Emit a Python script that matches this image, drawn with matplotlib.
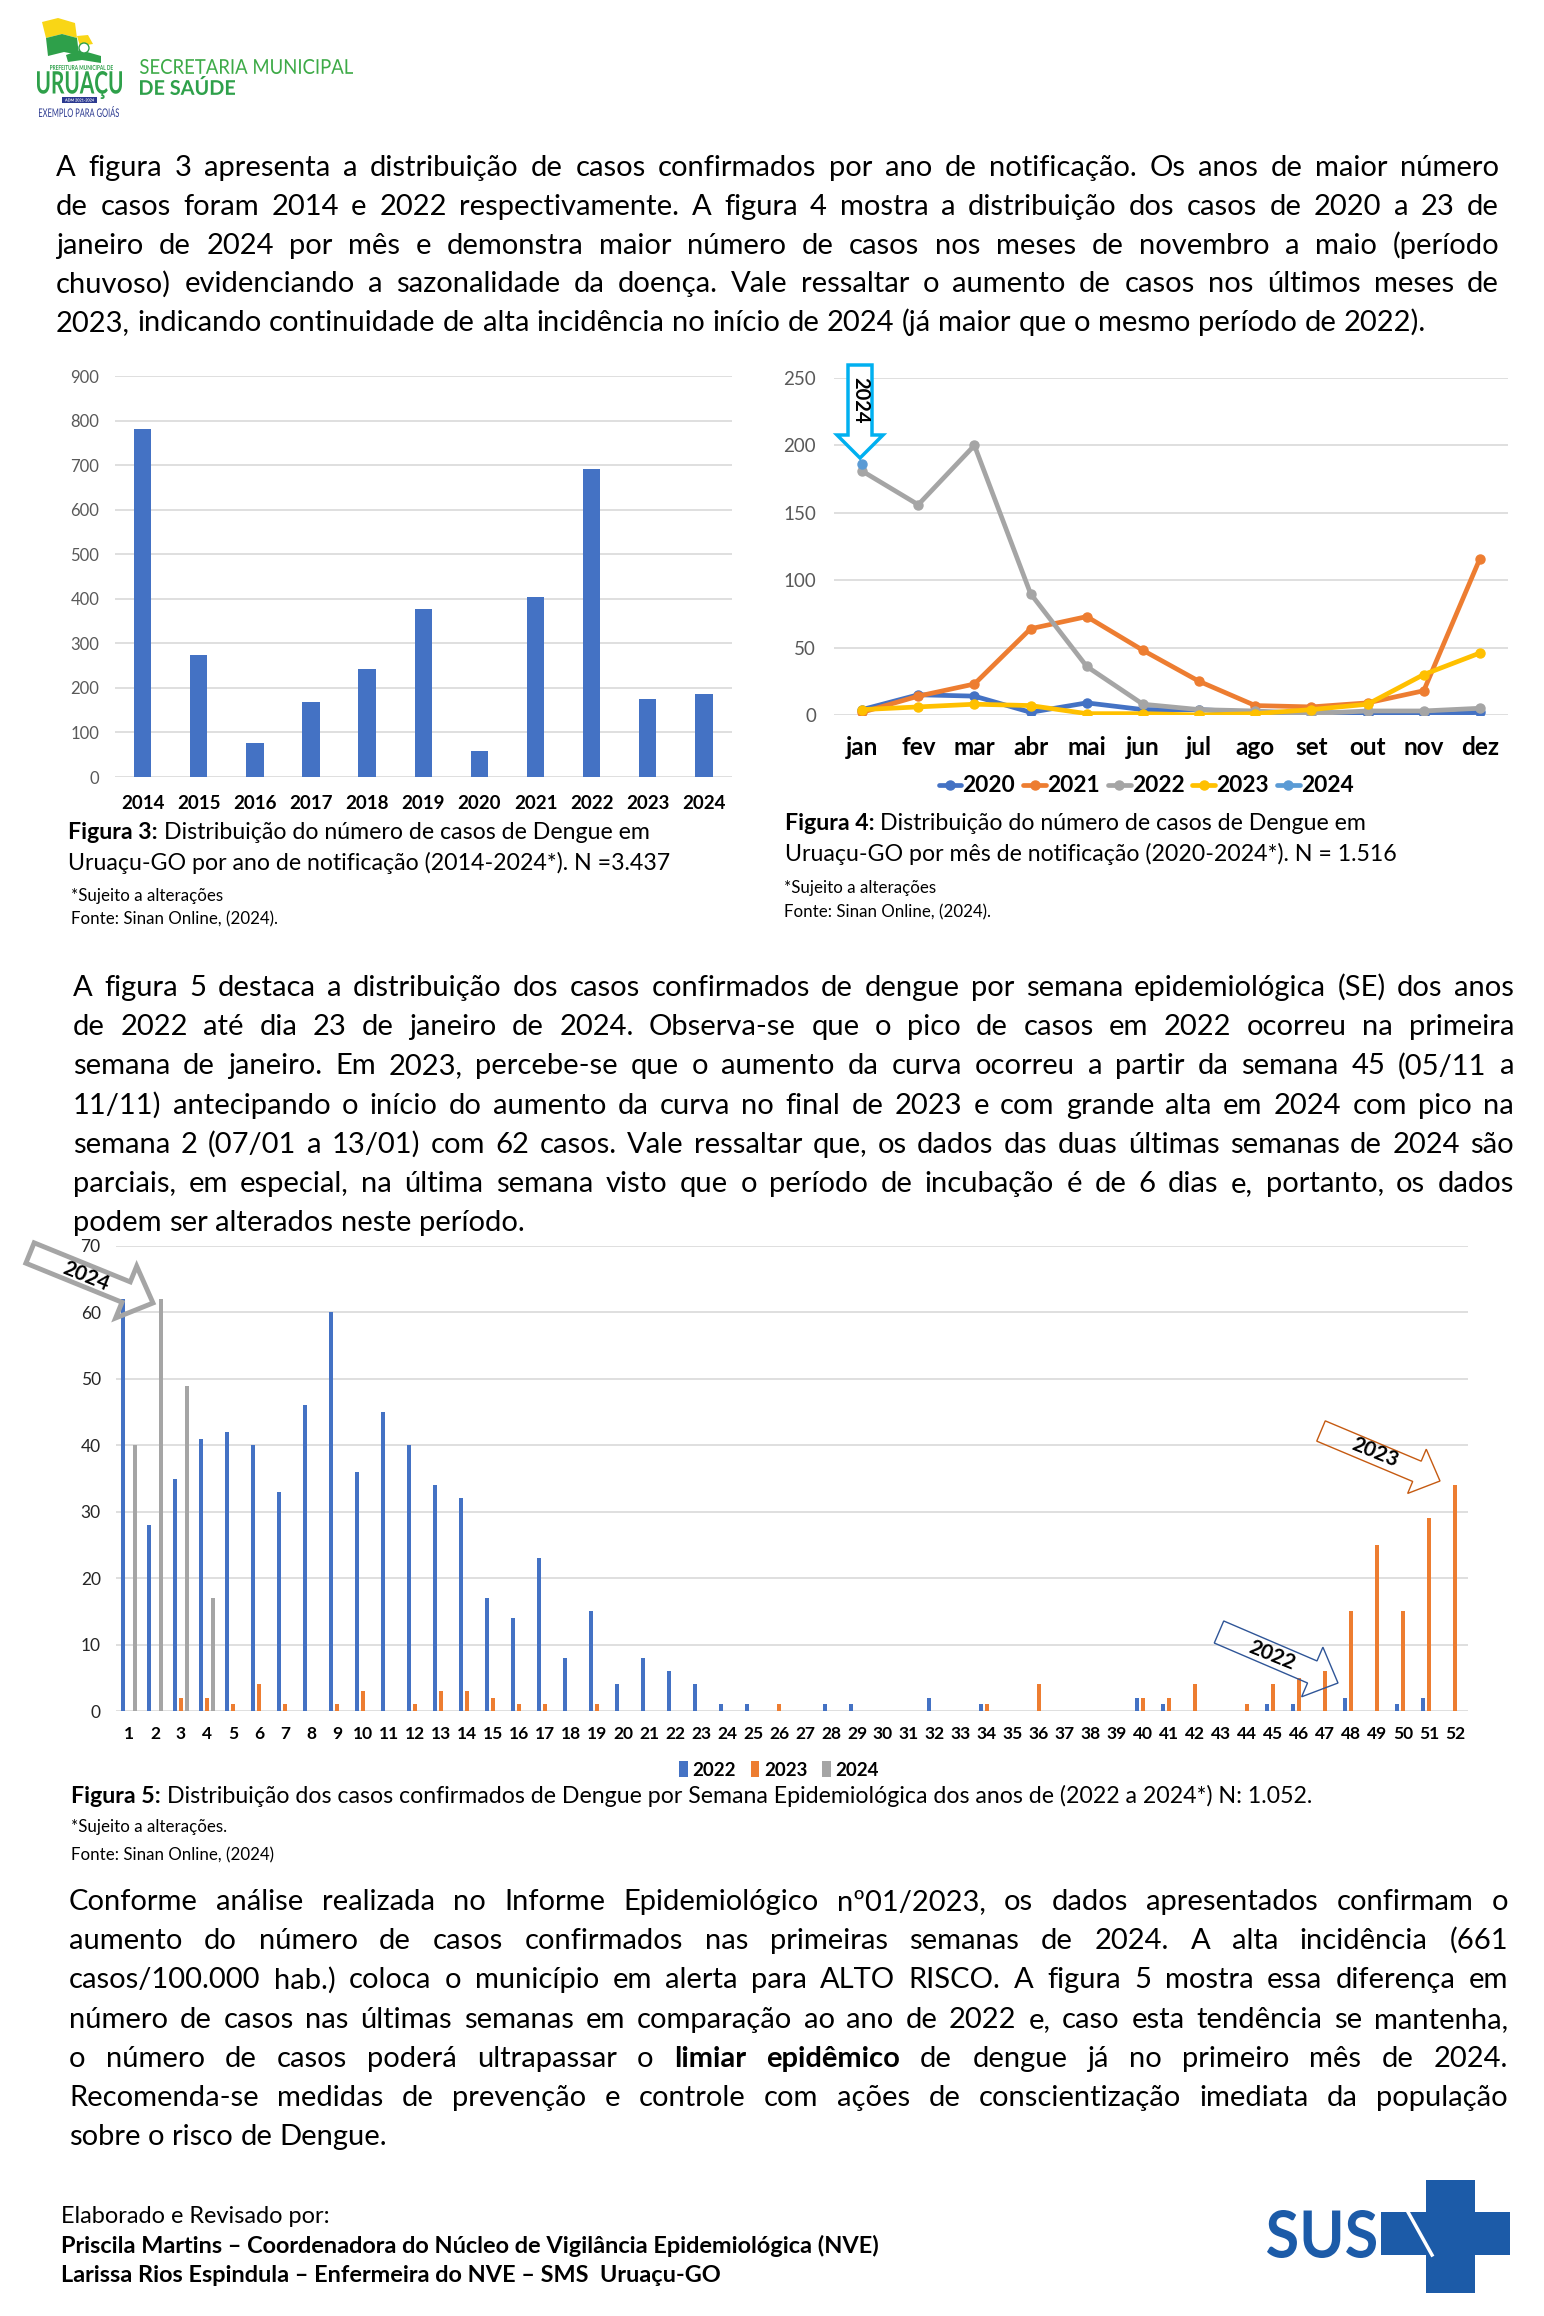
import numpy as np
import matplotlib
matplotlib.use("Agg")
import matplotlib.pyplot as plt
from matplotlib.patches import Polygon, Rectangle, Circle, PathPatch
from matplotlib.textpath import TextPath
from matplotlib.font_manager import FontProperties
from matplotlib.transforms import Affine2D

W, H = 1544, 2316
FONT = "Lato"
plt.rcParams["font.family"] = [FONT, "DejaVu Sans"]

BLUE = "#4472C4"
ORANGE = "#ED7D31"
GRAY = "#A5A5A5"
YELLOW = "#FFC000"
LIGHTBLUE = "#5B9BD5"
GRID = "#D9D9D9"

# Figura 3 - casos por ano
anos = ["2014", "2015", "2016", "2017", "2018", "2019", "2020", "2021", "2022", "2023", "2024"]
casos_ano = [781, 273, 77, 169, 242, 378, 59, 405, 691, 176, 186]

# Figura 4 - casos por mes
meses = ["jan", "fev", "mar", "abr", "mai", "jun", "jul", "ago", "set", "out", "nov", "dez"]
mes_2020 = [4, 15, 14, 2, 9, 4, 4, 2, 2, 1, 0, 2]
mes_2021 = [2, 14, 23, 64, 73, 48, 25, 7, 6, 9, 18, 116]
mes_2022 = [181, 156, 200, 90, 36, 8, 4, 3, 1, 3, 3, 5]
mes_2023 = [4, 6, 8, 7, 1, 1, 0, 1, 4, 8, 30, 46]
mes_2024 = [186]

# Figura 5 - casos por semana epidemiologica
semanas = list(range(1, 53))
se_2022 = [62, 28, 35, 41, 42, 40, 33, 46, 60, 36, 45, 40, 34, 32, 17, 14, 23, 8, 15, 4,
           8, 6, 4, 1, 1, 0, 0, 1, 1, 0, 0, 2, 0, 1, 0, 0, 0, 0, 0, 2,
           1, 0, 0, 0, 1, 1, 0, 2, 0, 1, 2, 0]
se_2023 = [0, 0, 2, 2, 1, 4, 1, 0, 1, 3, 0, 1, 3, 3, 2, 1, 1, 0, 1, 0,
           0, 0, 0, 0, 0, 1, 0, 0, 0, 0, 0, 0, 0, 1, 0, 4, 0, 0, 0, 2,
           2, 4, 0, 1, 4, 5, 6, 15, 25, 15, 29, 34]
se_2024 = [40, 62, 49, 17]

par1 = [
    "A figura 3 apresenta a distribuição de casos confirmados por ano de notificação. Os anos de maior número",
    "de casos foram 2014 e 2022 respectivamente. A figura 4 mostra a distribuição dos casos de 2020 a 23 de",
    "janeiro de 2024 por mês e demonstra maior número de casos nos meses de novembro a maio (período",
    "chuvoso) evidenciando a sazonalidade da doença. Vale ressaltar o aumento de casos nos últimos meses de",
    "2023, indicando continuidade de alta incidência no início de 2024 (já maior que o mesmo período de 2022).",
]
par2 = [
    "A figura 5 destaca a distribuição dos casos confirmados de dengue por semana epidemiológica (SE) dos anos",
    "de 2022 até dia 23 de janeiro de 2024. Observa-se que o pico de casos em 2022 ocorreu na primeira",
    "semana de janeiro. Em 2023, percebe-se que o aumento da curva ocorreu a partir da semana 45 (05/11 a",
    "11/11) antecipando o início do aumento da curva no final de 2023 e com grande alta em 2024 com pico na",
    "semana 2 (07/01 a 13/01) com 62 casos. Vale ressaltar que, os dados das duas últimas semanas de 2024 são",
    "parciais, em especial, na última semana visto que o período de incubação é de 6 dias e, portanto, os dados",
    "podem ser alterados neste período.",
]
par3 = [
    "Conforme análise realizada no Informe Epidemiológico nº01/2023, os dados apresentados confirmam o",
    "aumento do número de casos confirmados nas primeiras semanas de 2024. A alta incidência (661",
    "casos/100.000 hab.) coloca o município em alerta para ALTO RISCO. A figura 5 mostra essa diferença em",
    "número de casos nas últimas semanas em comparação ao ano de 2022 e, caso esta tendência se mantenha,",
    "o número de casos poderá ultrapassar o §limiar §epidêmico de dengue já no primeiro mês de 2024.",
    "Recomenda-se medidas de prevenção e controle com ações de conscientização imediata da população",
    "sobre o risco de Dengue.",
]


def rect(l, t, r, b):
    return [l / W, 1 - b / H, (r - l) / W, (b - t) / H]


def clean_axes(ax):
    for s in ax.spines.values():
        s.set_visible(False)
    ax.yaxis.grid(True, color=GRID, lw=1.2)
    ax.set_axisbelow(True)


fig = plt.figure(figsize=(W / 100, H / 100), dpi=100)
fig.patch.set_facecolor("white")

# ---- Figura 3
ax3 = fig.add_axes(rect(114.5, 376, 732, 777))
x3 = np.arange(len(anos))
ax3.bar(x3, casos_ano, width=0.31, color=BLUE, zorder=2)
ax3.set_xlim(-0.5, len(anos) - 0.5)
ax3.set_ylim(0, 900)
ax3.set_yticks(range(0, 901, 100))
clean_axes(ax3)
ax3.tick_params(axis="y", length=0, pad=11, labelsize=12, labelcolor="#595959")
ax3.set_xticks(x3, anos)
ax3.tick_params(axis="x", length=0, pad=13, labelsize=13.5)
for lab in ax3.get_xticklabels():
    lab.set_fontweight("bold")

# ---- Figura 4
ax4 = fig.add_axes(rect(834, 378, 1508, 715))
x4 = np.arange(len(meses))
series = [("2020", mes_2020, BLUE), ("2021", mes_2021, ORANGE), ("2022", mes_2022, GRAY),
          ("2023", mes_2023, YELLOW), ("2024", mes_2024, LIGHTBLUE)]
for nome, vals, cor in series:
    ax4.plot(x4[:len(vals)], vals, color=cor, lw=3.4, marker="o", ms=6.5,
             solid_capstyle="round", label=nome, zorder=3)
ax4.set_xlim(-0.5, len(meses) - 0.5)
ax4.set_ylim(0, 250)
ax4.set_yticks(range(0, 251, 50))
clean_axes(ax4)
ax4.tick_params(axis="y", length=0, pad=13, labelsize=13.5, labelcolor="#595959")
ax4.set_xticks(x4, meses)
ax4.tick_params(axis="x", length=0, pad=15, labelsize=17.5)
for lab in ax4.get_xticklabels():
    lab.set_fontweight("bold")
ax4.legend(loc="center", bbox_to_anchor=(1146 / W, 1 - 786 / H), bbox_transform=fig.transFigure,
           ncol=5, frameon=False, handlelength=1.0, handletextpad=0.05, columnspacing=0.35,
           prop=FontProperties(family=FONT, weight="bold", size=16.4))

# ---- Figura 5
ax5 = fig.add_axes(rect(116, 1246, 1468, 1711))
sem = np.array(semanas)
off, wd = 0.22, 0.17
ax5.bar(sem - off, se_2022, wd, color=BLUE, label="2022", zorder=2)
ax5.bar(sem, se_2023, wd, color=ORANGE, label="2023", zorder=2)
ax5.bar(sem[:len(se_2024)] + off, se_2024, wd, color=GRAY, label="2024", zorder=2)
ax5.set_xlim(0.5, 52.5)
ax5.set_ylim(0, 70)
ax5.set_yticks(range(0, 71, 10))
clean_axes(ax5)
ax5.tick_params(axis="y", length=0, pad=11, labelsize=12.5, labelcolor="#262626")
ax5.set_xticks(sem, [str(s) for s in semanas])
ax5.tick_params(axis="x", length=0, pad=11, labelsize=12.5)
for lab in ax5.get_xticklabels():
    lab.set_fontweight("bold")
ax5.legend(loc="center", bbox_to_anchor=(779 / W, 1 - 1770 / H), bbox_transform=fig.transFigure,
           ncol=3, frameon=False, handlelength=0.45, handleheight=0.9, handletextpad=0.25,
           columnspacing=0.8, borderpad=0.1, prop=FontProperties(family=FONT, weight="bold", size=13.5))

# ---- page overlay (texts, logos, arrows) in pixel coordinates
page = fig.add_axes([0, 0, 1, 1], zorder=10)
page.set_xlim(0, W)
page.set_ylim(H, 0)
page.axis("off")
R = fig.canvas.get_renderer()


def measure(t):
    return t.get_window_extent(renderer=R).width


def space_width(fs, weight="normal"):
    a = page.text(0, 0, "a a", fontsize=fs, fontweight=weight)
    b = page.text(0, 0, "aa", fontsize=fs, fontweight=weight)
    w = measure(a) - measure(b)
    a.remove()
    b.remove()
    return w


def paragraph(lines, x0, x1, base0, dy, fs):
    # justified block, last line left aligned; base0 = first baseline
    while True:
        rows = []
        for line in lines:
            row = []
            for w in line.split(" "):
                bold = w.startswith("§")
                row.append(page.text(0, 0, w.lstrip("§"), fontsize=fs,
                                     fontweight="bold" if bold else "normal",
                                     va="baseline", ha="left", color="black"))
            rows.append(row)
        sp = space_width(fs)
        need = max(sum(measure(t) for t in row) + 0.8 * sp * (len(row) - 1) for row in rows[:-1])
        if need <= x1 - x0:
            break
        for row in rows:
            for t in row:
                t.remove()
        fs *= (x1 - x0) / need * 0.998
    for i, row in enumerate(rows):
        widths = [measure(t) for t in row]
        if i == len(rows) - 1:
            gap = sp
        else:
            gap = (x1 - x0 - sum(widths)) / (len(row) - 1)
        x = x0
        for t, w in zip(row, widths):
            t.set_position((x, base0 + i * dy))
            x += w + gap


def rich(x, y, parts, fs, color="black"):
    # y is the baseline
    sp = space_width(fs)
    for s, wt in parts:
        t = page.text(x, y, s, fontsize=fs, fontweight=wt, va="baseline", ha="left", color=color)
        x += measure(t) + sp


def fit_text(s, x0, y0, x1, y1, color, weight="bold"):
    fp = FontProperties(family=FONT, weight=weight)
    tp = TextPath((0, 0), s, size=100, prop=fp)
    bb = tp.get_extents()
    tr = (Affine2D().translate(-bb.x0, -bb.y0)
          .scale((x1 - x0) / bb.width, -(y1 - y0) / bb.height)
          .translate(x0, y1) + page.transData)
    page.add_patch(PathPatch(tp, transform=tr, fc=color, ec="none", lw=0))


def block_arrow(tail, tip, sw, hw, hl, ec, lw, fc="none"):
    T = np.array(tail, float)
    P = np.array(tip, float)
    u = (P - T) / np.hypot(*(P - T))
    n = np.array([-u[1], u[0]])
    B = P - u * hl
    pts = [T + n * sw, B + n * sw, B + n * hw, P, B - n * hw, B - n * sw, T - n * sw]
    page.add_patch(Polygon(pts, closed=True, fc=fc, ec=ec, lw=lw, joinstyle="miter"))


# header logo
GREEN = "#2EA04A"
page.add_patch(Polygon([(42, 22), (58, 18), (75, 23), (77, 38), (62, 34), (46, 38)], fc="#F9D616", ec="none"))
page.add_patch(Polygon([(46, 38), (62, 34), (77, 38), (79, 55), (64, 52), (48, 56)], fc=GREEN, ec="none"))
page.add_patch(Polygon([(77, 36), (88, 35), (93, 44), (80, 46)], fc="#F9D616", ec="none"))
page.add_patch(Polygon([(66, 55), (80, 50), (101, 56), (101, 63), (82, 60), (68, 62)], fc=GREEN, ec="none"))
page.add_patch(Circle((84, 48), 5, fc="white", ec=GREEN, lw=1))
fit_text("PREFEITURA MUNICIPAL DE", 50, 65, 113, 70, GREEN)
fit_text("URUAÇU", 37, 71, 122, 99, GREEN)
page.add_patch(Rectangle((62, 97), 35, 6, fc="#2B3990", ec="none"))
fit_text("ADM 2021-2024", 65, 98.5, 94, 101.5, "white")
fit_text("EXEMPLO PARA GOIÁS", 39, 106, 119, 117, "#2B3990", weight="normal")
fit_text("SECRETARIA MUNICIPAL", 140, 59, 353, 74, "#3DAA47", weight="normal")
fit_text("DE SAÚDE", 140, 76, 235, 95, GREEN)

# paragraphs
paragraph(par1, 56, 1499, 176, 38.8, 21)
paragraph(par2, 73, 1514, 996, 39.2, 21)
paragraph(par3, 69, 1508, 1910, 39.2, 21)

# captions
CAP = 16.7
SMALL = 12.2
rich(68, 839, [("Figura 3:", "bold"), ("Distribuição do número de casos de Dengue em", "normal")], CAP)
rich(68, 870, [("Uruaçu-GO por ano de notificação (2014-2024*). N =3.437", "normal")], CAP)
rich(71, 901.5, [("*Sujeito a alterações", "normal")], SMALL)
rich(71, 924, [("Fonte: Sinan Online, (2024).", "normal")], SMALL)

rich(785, 830, [("Figura 4:", "bold"), ("Distribuição do número de casos de Dengue em", "normal")], CAP)
rich(785, 861, [("Uruaçu-GO por mês de notificação (2020-2024*). N = 1.516", "normal")], CAP)
rich(784, 893.5, [("*Sujeito a alterações", "normal")], SMALL)
rich(784, 917, [("Fonte: Sinan Online, (2024).", "normal")], SMALL)

rich(71, 1803, [("Figura 5:", "bold"),
                ("Distribuição dos casos confirmados de Dengue por Semana Epidemiológica dos anos de (2022 a 2024*) N: 1.052.", "normal")], CAP)
rich(71, 1832, [("*Sujeito a alterações.", "normal")], SMALL)
rich(71, 1860, [("Fonte: Sinan Online, (2024)", "normal")], SMALL)

# footer
rich(61, 2223, [("Elaborado e Revisado por:", "normal")], 16.9)
rich(61, 2253, [("Priscila Martins – Coordenadora do Núcleo de Vigilância Epidemiológica (NVE)", "bold")], 16.9)
rich(61, 2282, [("Larissa Rios Espindula – Enfermeira do NVE – SMS  Uruaçu-GO", "bold")], 16.9)

# SUS logo
SUSB = "#1C5BA8"
fit_text("SUS", 1267, 2210, 1376, 2258, SUSB)
page.add_patch(Rectangle((1426, 2180), 49, 113, fc=SUSB, ec="none"))
page.add_patch(Rectangle((1381, 2212), 129, 43, fc=SUSB, ec="none"))
page.plot([1408, 1432], [2212, 2255], color="white", lw=2.5)

# arrow on figure 4
page.add_patch(Polygon([(848, 365), (872, 365), (872, 435), (883, 435), (860, 458), (837, 435), (848, 435)],
                       closed=True, fc="white", ec="#00B0F0", lw=2.5))
page.text(860, 400, "2024", rotation=-90, ha="center", va="center", fontsize=14.5, fontweight="bold")

# arrows on figure 5
block_arrow((30, 1253), (153, 1303), 11, 28, 29, GRAY, 3.5)
page.text(86, 1276, "2024", rotation=-22, ha="center", va="center", fontsize=15, fontweight="bold")
block_arrow((1219, 1632), (1338, 1683), 12, 27, 28, "#2F5597", 1)
page.text(1272, 1655, "2022", rotation=-22, ha="center", va="center", fontsize=15, fontweight="bold")
block_arrow((1321, 1431), (1440, 1481), 11, 24, 25, "#C55A11", 1)
page.text(1375, 1453, "2023", rotation=-22, ha="center", va="center", fontsize=15, fontweight="bold")

fig.savefig("out.png", dpi=100)
